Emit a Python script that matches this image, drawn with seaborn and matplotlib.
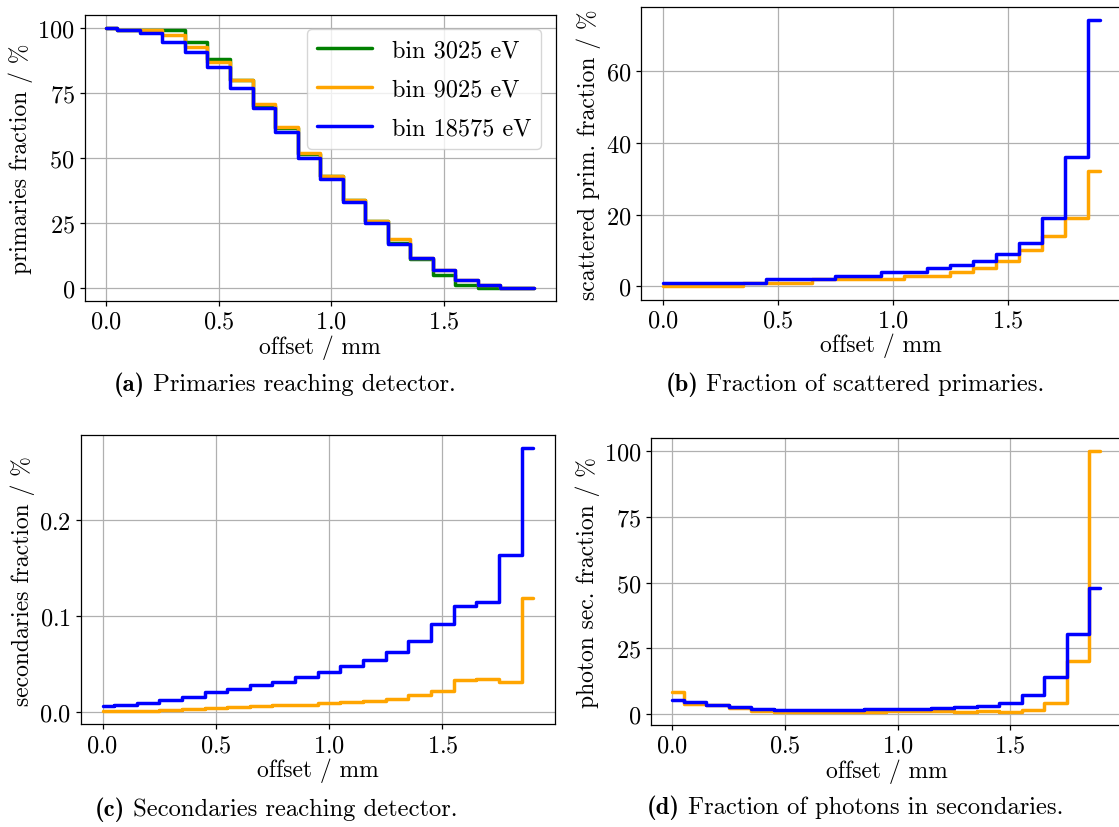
import matplotlib
matplotlib.use("Agg")
import matplotlib.pyplot as plt
import seaborn as sns

# Bin centres of the beam offset scan (mm)
offset = [0.0, 0.1, 0.2, 0.3, 0.4, 0.5, 0.6, 0.7, 0.8, 0.9,
          1.0, 1.1, 1.2, 1.3, 1.4, 1.5, 1.6, 1.7, 1.8, 1.9]

# (a) primaries reaching the detector, %
prim_3025 = [100, 99, 99, 99, 94.6, 87.8, 79.8, 70.0, 61.4, 51.4,
             43.1, 33.9, 25.6, 17.1, 11.1, 5.1, 1.3, 0, 0, 0]
prim_9025 = [100, 99, 99, 97.2, 92.7, 86.8, 79.8, 70.6, 61.8, 51.7,
             43.1, 33.9, 25.8, 18.8, 11.5, 7.0, 3.1, 1.0, 0, 0]
prim_18575 = [100, 99, 98, 94.6, 90.8, 85.0, 77.0, 69.0, 60.0, 49.9,
              41.8, 33.2, 24.9, 16.9, 11.5, 7.0, 3.1, 1.0, 0, 0]

# (b) scattered primaries, %
scat_9025 = [0, 0, 0, 0, 1, 1, 1, 2, 2, 2,
             2, 3, 3, 4, 5, 7, 10, 14, 19, 32]
scat_18575 = [1, 1, 1, 1, 1, 2, 2, 2, 3, 3,
              4, 4, 5, 6, 7, 9, 12, 19, 36, 74]

# (c) secondaries reaching the detector, %
sec_9025 = [0.0007, 0.0007, 0.0014, 0.0020, 0.0035, 0.0042, 0.0052, 0.0062, 0.0069, 0.0076,
            0.0090, 0.0104, 0.0118, 0.0139, 0.0177, 0.0215, 0.0333, 0.0340, 0.0312, 0.1184]
sec_18575 = [0.0059, 0.0069, 0.0094, 0.0121, 0.0160, 0.0208, 0.0240, 0.0280, 0.0316, 0.0360,
             0.0417, 0.0475, 0.0538, 0.0625, 0.0740, 0.0913, 0.1100, 0.1146, 0.1630, 0.2747]

# (d) photon fraction among secondaries, %
phot_9025 = [8.2, 3.8, 3.4, 2.4, 1.3, 0.8, 0.8, 0.8, 0.8, 0.8,
             1.0, 1.0, 1.1, 0.9, 1.3, 0.9, 1.4, 4.3, 20.0, 100.0]
phot_18575 = [5.2, 4.7, 3.3, 2.8, 1.8, 1.6, 1.6, 1.6, 1.7, 1.8,
              1.9, 2.0, 2.2, 2.5, 3.0, 4.3, 7.1, 14.2, 30.5, 47.8]

labels = ["bin 3025 eV", "bin 9025 eV", "bin 18575 eV"]
colors = ["green", "orange", "blue"]

x_ticks = [0.0, 0.5, 1.0, 1.5]
ticks_pct = [0, 25, 50, 75, 100]
ticks_scat = [0, 20, 40, 60]
ticks_sec = [0.0, 0.1, 0.2]

sns.set_theme(style="whitegrid", rc={
    "axes.edgecolor": "black",
    "axes.linewidth": 0.9,
    "grid.color": "#b0b0b0",
    "grid.linewidth": 0.9,
    "xtick.bottom": True,
    "ytick.left": True,
    "xtick.direction": "out",
    "ytick.direction": "out",
    "xtick.major.size": 3.5,
    "ytick.major.size": 3.5,
    "xtick.color": "black",
    "ytick.color": "black",
    "text.color": "black",
    "axes.labelcolor": "black",
})
plt.rcParams["font.family"] = ["cmr10", "DejaVu Serif"]
plt.rcParams["mathtext.fontset"] = "cm"
plt.rcParams["axes.formatter.use_mathtext"] = True

TICK_FS = 17.5
LABEL_FS = 17
CAP_FS = 17.7

W, H = 1119, 828
fig = plt.figure(figsize=(W / 100, H / 100), dpi=100)
ax_a = fig.add_axes([0.0756, 0.6353, 0.4210, 0.3458])
ax_b = fig.add_axes([0.5726, 0.6368, 0.4297, 0.3535])
ax_c = fig.add_axes([0.0724, 0.1238, 0.4232, 0.3500])
ax_d = fig.add_axes([0.5818, 0.1233, 0.4207, 0.3461])


def steps(ax, series, cols, labs=None):
    for i, (vals, c) in enumerate(zip(series, cols)):
        kw = {"label": labs[i]} if labs else {}
        sns.lineplot(x=offset, y=vals, ax=ax, color=c, linewidth=2.5,
                     drawstyle="steps-mid", estimator=None, legend=False, **kw)


steps(ax_a, [prim_3025, prim_9025, prim_18575], colors, labels)
steps(ax_b, [scat_9025, scat_18575], colors[1:])
steps(ax_c, [sec_9025, sec_18575], colors[1:])
steps(ax_d, [phot_9025, phot_18575], colors[1:])

panels = [
    (ax_a, "primaries fraction / %", ticks_pct),
    (ax_b, "scattered prim. fraction / %", ticks_scat),
    (ax_c, "secondaries fraction / %", ticks_sec),
    (ax_d, "photon sec. fraction / %", ticks_pct),
]
for ax, ylab, yt in panels:
    ax.set_xticks(x_ticks)
    ax.set_yticks(yt)
    ax.set_xlabel("offset / mm", fontsize=LABEL_FS, labelpad=1)
    ax.set_ylabel(ylab, fontsize=LABEL_FS, labelpad=3)
    ax.tick_params(labelsize=TICK_FS, width=0.9, color="black", pad=3.5)
    ax.grid(True)
    for s in ax.spines.values():
        s.set_color("black")
        s.set_visible(True)

ax_a.legend(loc="upper right", fontsize=17.5, handlelength=2.3,
            borderpad=0.4, labelspacing=0.7, borderaxespad=0.6,
            framealpha=0.8, edgecolor="0.8", fancybox=True)

# Sub-figure captions: bold tag followed by the plain description
caps = [
    (285, 385, "(a)", " Primaries reaching detector."),
    (855, 385, "(b)", " Fraction of scattered primaries."),
    (276, 810, "(c)", " Secondaries reaching detector."),
    (855, 808, "(d)", " Fraction of photons in secondaries."),
]
renderer = fig.canvas.get_renderer()
for cx, cy, tag, body in caps:
    t1 = fig.text(0, 1 - cy / H, tag, fontfamily="cmb10", fontsize=CAP_FS,
                  ha="left", va="center")
    t2 = fig.text(0, 1 - cy / H, body, fontfamily="cmr10", fontsize=CAP_FS,
                  ha="left", va="center")
    w1 = t1.get_window_extent(renderer).width
    w2 = t2.get_window_extent(renderer).width
    x0 = cx - (w1 + w2) / 2
    t1.set_x(x0 / W)
    t2.set_x((x0 + w1) / W)

fig.savefig("out.png", dpi=100)
